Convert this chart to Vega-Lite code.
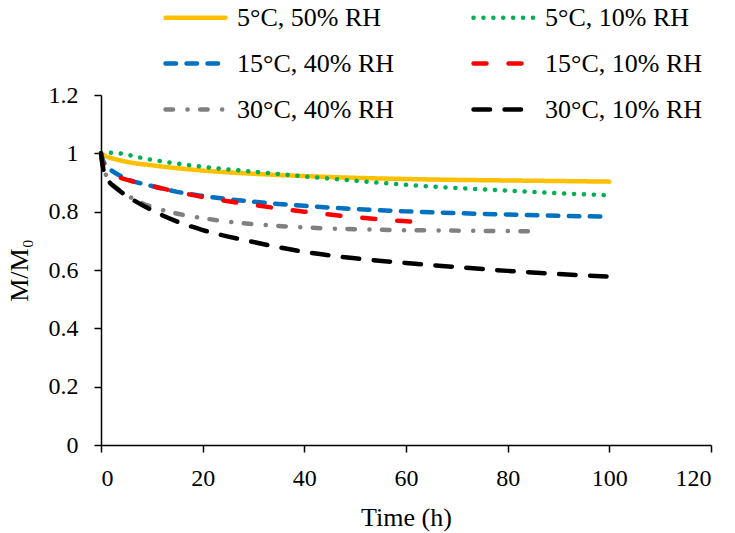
{
  "$schema": "https://vega.github.io/schema/vega-lite/v6.json",
  "width": 610,
  "height": 350,
  "autosize": {"type": "none"},
  "padding": {"left": 101, "top": 95, "right": 24, "bottom": 88},
  "background": "white",
  "data": {"values": [
    {"s": "5°C, 50% RH", "t": 0, "m": 1.0},
    {"s": "5°C, 50% RH", "t": 1, "m": 0.99},
    {"s": "5°C, 50% RH", "t": 3, "m": 0.979},
    {"s": "5°C, 50% RH", "t": 5, "m": 0.971},
    {"s": "5°C, 50% RH", "t": 10, "m": 0.959},
    {"s": "5°C, 50% RH", "t": 15, "m": 0.949},
    {"s": "5°C, 50% RH", "t": 20, "m": 0.941},
    {"s": "5°C, 50% RH", "t": 30, "m": 0.93},
    {"s": "5°C, 50% RH", "t": 40, "m": 0.922},
    {"s": "5°C, 50% RH", "t": 50, "m": 0.916},
    {"s": "5°C, 50% RH", "t": 60, "m": 0.912},
    {"s": "5°C, 50% RH", "t": 70, "m": 0.909},
    {"s": "5°C, 50% RH", "t": 80, "m": 0.907},
    {"s": "5°C, 50% RH", "t": 90, "m": 0.905},
    {"s": "5°C, 50% RH", "t": 100, "m": 0.903},

    {"s": "5°C, 10% RH", "t": 0, "m": 1.0},
    {"s": "5°C, 10% RH", "t": 2, "m": 1.002},
    {"s": "5°C, 10% RH", "t": 4.5, "m": 0.998},
    {"s": "5°C, 10% RH", "t": 7, "m": 0.988},
    {"s": "5°C, 10% RH", "t": 10, "m": 0.978},
    {"s": "5°C, 10% RH", "t": 15, "m": 0.965},
    {"s": "5°C, 10% RH", "t": 20, "m": 0.954},
    {"s": "5°C, 10% RH", "t": 30, "m": 0.937},
    {"s": "5°C, 10% RH", "t": 40, "m": 0.921},
    {"s": "5°C, 10% RH", "t": 50, "m": 0.906},
    {"s": "5°C, 10% RH", "t": 60, "m": 0.892},
    {"s": "5°C, 10% RH", "t": 70, "m": 0.881},
    {"s": "5°C, 10% RH", "t": 80, "m": 0.872},
    {"s": "5°C, 10% RH", "t": 90, "m": 0.863},
    {"s": "5°C, 10% RH", "t": 100, "m": 0.856},

    {"s": "15°C, 40% RH", "t": 0, "m": 1.0},
    {"s": "15°C, 40% RH", "t": 0.5, "m": 0.972},
    {"s": "15°C, 40% RH", "t": 1, "m": 0.957},
    {"s": "15°C, 40% RH", "t": 2, "m": 0.942},
    {"s": "15°C, 40% RH", "t": 5, "m": 0.913},
    {"s": "15°C, 40% RH", "t": 10, "m": 0.888},
    {"s": "15°C, 40% RH", "t": 15, "m": 0.868},
    {"s": "15°C, 40% RH", "t": 20, "m": 0.854},
    {"s": "15°C, 40% RH", "t": 30, "m": 0.834},
    {"s": "15°C, 40% RH", "t": 40, "m": 0.82},
    {"s": "15°C, 40% RH", "t": 50, "m": 0.809},
    {"s": "15°C, 40% RH", "t": 60, "m": 0.801},
    {"s": "15°C, 40% RH", "t": 70, "m": 0.795},
    {"s": "15°C, 40% RH", "t": 80, "m": 0.79},
    {"s": "15°C, 40% RH", "t": 90, "m": 0.786},
    {"s": "15°C, 40% RH", "t": 99, "m": 0.783},

    {"s": "15°C, 10% RH", "t": 0, "m": 1.0},
    {"s": "15°C, 10% RH", "t": 0.5, "m": 0.952},
    {"s": "15°C, 10% RH", "t": 2, "m": 0.93},
    {"s": "15°C, 10% RH", "t": 4, "m": 0.915},
    {"s": "15°C, 10% RH", "t": 6, "m": 0.905},
    {"s": "15°C, 10% RH", "t": 10, "m": 0.888},
    {"s": "15°C, 10% RH", "t": 15, "m": 0.868},
    {"s": "15°C, 10% RH", "t": 20, "m": 0.85},
    {"s": "15°C, 10% RH", "t": 30, "m": 0.823},
    {"s": "15°C, 10% RH", "t": 40, "m": 0.8},
    {"s": "15°C, 10% RH", "t": 50, "m": 0.781},
    {"s": "15°C, 10% RH", "t": 60, "m": 0.767},
    {"s": "15°C, 10% RH", "t": 64, "m": 0.762},

    {"s": "30°C, 40% RH", "t": 0, "m": 1.0},
    {"s": "30°C, 40% RH", "t": 0.5, "m": 0.95},
    {"s": "30°C, 40% RH", "t": 1, "m": 0.925},
    {"s": "30°C, 40% RH", "t": 2, "m": 0.898},
    {"s": "30°C, 40% RH", "t": 4, "m": 0.87},
    {"s": "30°C, 40% RH", "t": 8, "m": 0.83},
    {"s": "30°C, 40% RH", "t": 12, "m": 0.806},
    {"s": "30°C, 40% RH", "t": 20, "m": 0.778},
    {"s": "30°C, 40% RH", "t": 27, "m": 0.762},
    {"s": "30°C, 40% RH", "t": 34, "m": 0.752},
    {"s": "30°C, 40% RH", "t": 41, "m": 0.745},
    {"s": "30°C, 40% RH", "t": 55, "m": 0.738},
    {"s": "30°C, 40% RH", "t": 70, "m": 0.735},
    {"s": "30°C, 40% RH", "t": 84, "m": 0.733},

    {"s": "30°C, 10% RH", "t": 0, "m": 1.0},
    {"s": "30°C, 10% RH", "t": 0.3, "m": 0.96},
    {"s": "30°C, 10% RH", "t": 0.8, "m": 0.926},
    {"s": "30°C, 10% RH", "t": 1.5, "m": 0.905},
    {"s": "30°C, 10% RH", "t": 3, "m": 0.88},
    {"s": "30°C, 10% RH", "t": 5, "m": 0.855},
    {"s": "30°C, 10% RH", "t": 10, "m": 0.805},
    {"s": "30°C, 10% RH", "t": 15, "m": 0.766},
    {"s": "30°C, 10% RH", "t": 20, "m": 0.737},
    {"s": "30°C, 10% RH", "t": 30, "m": 0.696},
    {"s": "30°C, 10% RH", "t": 40, "m": 0.662},
    {"s": "30°C, 10% RH", "t": 50, "m": 0.64},
    {"s": "30°C, 10% RH", "t": 60, "m": 0.624},
    {"s": "30°C, 10% RH", "t": 70, "m": 0.61},
    {"s": "30°C, 10% RH", "t": 80, "m": 0.597},
    {"s": "30°C, 10% RH", "t": 90, "m": 0.586},
    {"s": "30°C, 10% RH", "t": 100, "m": 0.577}
  ]},
  "mark": {"type": "line", "strokeCap": "round", "strokeJoin": "round", "interpolate": "monotone"},
  "encoding": {
    "x": {
      "field": "t", "type": "quantitative",
      "scale": {"domain": [0, 120], "nice": false},
      "axis": {"title": "Time (h)", "values": [0, 20, 40, 60, 80, 100, 120], "labelPadding": 14, "titlePadding": 14}
    },
    "y": {
      "field": "m", "type": "quantitative",
      "scale": {"domain": [0, 1.2], "nice": false},
      "axis": {"title": "M/M₀", "values": [0, 0.2, 0.4, 0.6, 0.8, 1.0, 1.2], "format": ".1~f", "labelPadding": 16, "titlePadding": 16}
    },
    "color": {
      "field": "s", "type": "nominal",
      "scale": {
        "domain": ["5°C, 50% RH", "5°C, 10% RH", "15°C, 40% RH", "15°C, 10% RH", "30°C, 40% RH", "30°C, 10% RH"],
        "range": ["#FFC000", "#00B050", "#0070C0", "#FF0000", "#808080", "#000000"]
      },
      "legend": {
        "title": null,
        "orient": "none",
        "direction": "horizontal",
        "legendX": 62,
        "legendY": -110,
        "columns": 2,
        "columnPadding": 69,
        "rowPadding": 0,
        "padding": 0,
        "symbolType": "stroke",
        "symbolSize": 3600,
        "symbolStrokeWidth": 4.5,
        "labelFont": "Liberation Serif",
        "labelFontSize": 26,
        "labelColor": "black",
        "labelOffset": 9,
        "encoding": {"symbols": {"strokeCap": {"value": "round"}}}
      }
    },
    "strokeDash": {
      "field": "s", "type": "nominal",
      "scale": {
        "domain": ["5°C, 50% RH", "5°C, 10% RH", "15°C, 40% RH", "15°C, 10% RH", "30°C, 40% RH", "30°C, 10% RH"],
        "range": [[1, 0], [0.1, 9.8], [10.5, 10.5], [13, 22], [7.5, 14.5, 0.1, 12.5], [16.5, 14.5]]
      },
      "legend": {
        "title": null,
        "orient": "none",
        "direction": "horizontal",
        "legendX": 62,
        "legendY": -110,
        "columns": 2,
        "columnPadding": 69,
        "rowPadding": 0,
        "padding": 0,
        "symbolType": "stroke",
        "symbolSize": 3600,
        "symbolStrokeWidth": 4.5,
        "labelFont": "Liberation Serif",
        "labelFontSize": 26,
        "labelColor": "black",
        "labelOffset": 9,
        "encoding": {"symbols": {"strokeCap": {"value": "round"}}}
      }
    },
    "strokeWidth": {
      "field": "s", "type": "nominal",
      "scale": {
        "domain": ["5°C, 50% RH", "5°C, 10% RH", "15°C, 40% RH", "15°C, 10% RH", "30°C, 40% RH", "30°C, 10% RH"],
        "range": [4.5, 4.5, 4.5, 5, 4.5, 5.5]
      },
      "legend": null
    }
  },
  "config": {
    "view": {"stroke": null},
    "font": "Liberation Serif",
    "axis": {
      "grid": false,
      "domainColor": "black",
      "domainWidth": 1.5,
      "tickColor": "black",
      "tickWidth": 1.5,
      "tickSize": 7,
      "labelFont": "Liberation Serif",
      "labelFontSize": 24,
      "labelColor": "black",
      "titleFont": "Liberation Serif",
      "titleFontSize": 26,
      "titleFontWeight": "normal",
      "titleColor": "black"
    }
  }
}
